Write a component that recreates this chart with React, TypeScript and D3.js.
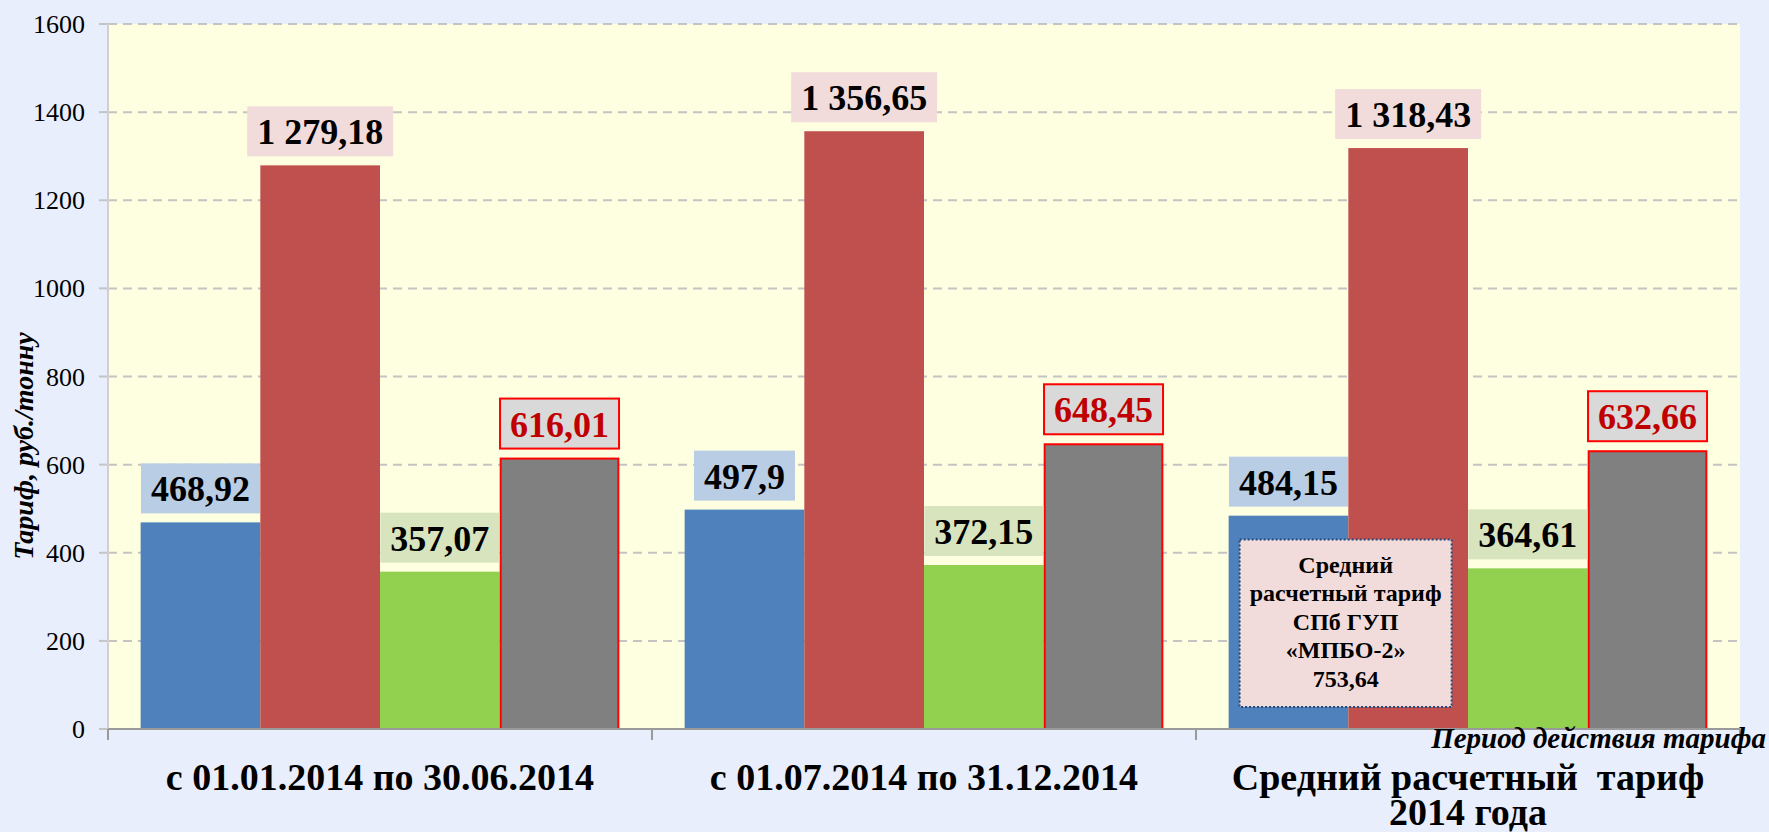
import * as d3 from "d3";

// categories (periods) and series values
const categories = ["p1", "p2", "p3"];
const categoryLines = [
  ["с 01.01.2014 по 30.06.2014"],
  ["с 01.07.2014 по 31.12.2014"],
  ["Средний расчетный  тариф", "2014 года"],
];
const seriesKeys = ["s1", "s2", "s3", "s4"];
const series1 = [468.92, 497.9, 484.15];
const series2 = [1279.18, 1356.65, 1318.43];
const series3 = [357.07, 372.15, 364.61];
const series4 = [616.01, 648.45, 632.66];
const yTicks = [0, 200, 400, 600, 800, 1000, 1200, 1400, 1600];

const noteLines = ["Средний", "расчетный тариф", "СПб ГУП", "«МПБО-2»", "753,64"];
const yTitle = "Тариф, руб./тонну";
const xTitle = "Период действия тарифа";

const seriesValues = [series1, series2, series3, series4];
const barFill = ["#4F81BD", "#C0504D", "#92D050", "#808080"];
const barStroke = ["none", "none", "none", "#FF0000"];
const labelFill = ["#B9CDE5", "#F2DCDB", "#D7E4BD", "#D9D9D9"];
const labelStroke = ["none", "none", "none", "#FF0000"];
const labelColor = ["#000", "#000", "#000", "#C00000"];

const font = "'Liberation Serif', 'Times New Roman', serif";

const ru = d3.formatLocale({
  decimal: ",",
  thousands: "\u00a0",
  grouping: [3],
  currency: ["", " руб."],
});
const fmt = ru.format(",.2~f");

let ctx: CanvasRenderingContext2D | null = null;
function textWidth(s: string, size: number) {
  if (!ctx) ctx = document.createElement("canvas").getContext("2d");
  if (!ctx) return s.length * size * 0.5;
  ctx.font = `bold ${size}px ${font}`;
  return ctx.measureText(s).width;
}

export default function App() {
  const width = 1769;
  const height = 832;
  const marginLeft = 108;
  const marginRight = 29;
  const marginTop = 24;
  const marginBottom = 103;

  const innerBottom = height - marginBottom;
  const innerRight = width - marginRight;

  const x = d3
    .scaleBand()
    .domain(categories)
    .range([marginLeft, innerRight])
    .paddingInner(0.12)
    .paddingOuter(0.06);

  const xs = d3.scaleBand().domain(seriesKeys).range([0, x.bandwidth()]);

  const y = d3.scaleLinear().domain([0, 1600]).range([innerBottom, marginTop]);

  const half = (x.step() - x.bandwidth()) / 2;
  const bounds = [...categories.map((c) => x(c)! - half), innerRight];

  const labelSize = 36;

  return (
    <div style={{ position: "fixed", inset: 0, overflow: "hidden" }}>
      <svg width={width} height={height} style={{ display: "block" }} fontFamily={font}>
        <rect width={width} height={height} fill="#E9EEFD" />
        <rect
          x={marginLeft}
          y={marginTop}
          width={innerRight - marginLeft}
          height={innerBottom - marginTop}
          fill="#FEFFE0"
        />

        {/* grid + y ticks */}
        {yTicks.map((t) => (
          <g key={t}>
            {t > 0 && (
              <line
                x1={marginLeft}
                x2={innerRight}
                y1={y(t)}
                y2={y(t)}
                stroke="#C4C4C4"
                strokeWidth={2}
                strokeDasharray="9 6"
              />
            )}
            <line x1={marginLeft - 9} x2={marginLeft} y1={y(t)} y2={y(t)} stroke="#C4C4C4" strokeWidth={2} />
            <text x={85} y={y(t)} dy="0.35em" textAnchor="end" fontSize={26}>
              {t}
            </text>
          </g>
        ))}

        {/* y axis */}
        <line x1={marginLeft} x2={marginLeft} y1={marginTop} y2={innerBottom} stroke="#D0D0D0" strokeWidth={2} />

        {/* bars */}
        {categories.map((c, i) =>
          seriesKeys.map((k, j) => {
            const v = seriesValues[j][i];
            const bx = x(c)! + xs(k)!;
            const bw = xs.bandwidth();
            const sw = barStroke[j] === "none" ? 0 : 2;
            return (
              <rect
                key={c + k}
                x={bx + sw / 2}
                y={y(v) + sw / 2}
                width={bw - sw}
                height={y(0) - y(v) - sw / 2}
                fill={barFill[j]}
                stroke={barStroke[j]}
                strokeWidth={sw}
              />
            );
          })
        )}

        {/* x axis */}
        <line x1={marginLeft} x2={innerRight} y1={innerBottom} y2={innerBottom} stroke="#9A9A9A" strokeWidth={2} />
        {bounds.map((b, i) => (
          <line key={i} x1={b} x2={b} y1={innerBottom} y2={innerBottom + 11} stroke="#9A9A9A" strokeWidth={2} />
        ))}

        {/* value labels */}
        {categories.map((c, i) =>
          seriesKeys.map((k, j) => {
            const v = seriesValues[j][i];
            const s = fmt(v);
            const cx = x(c)! + xs(k)! + xs.bandwidth() / 2;
            const w = textWidth(s, labelSize) + 20;
            const bottom = y(v) - 9;
            const h = 50;
            return (
              <g key={"l" + c + k}>
                <rect
                  x={cx - w / 2}
                  y={bottom - h}
                  width={w}
                  height={h}
                  fill={labelFill[j]}
                  stroke={labelStroke[j]}
                  strokeWidth={labelStroke[j] === "none" ? 0 : 2}
                />
                <text
                  x={cx}
                  y={bottom - 12}
                  textAnchor="middle"
                  fontSize={labelSize}
                  fontWeight="bold"
                  fill={labelColor[j]}
                >
                  {s}
                </text>
              </g>
            );
          })
        )}

        {/* note box over the third group */}
        <g>
          <rect
            x={x(categories[2])! + 11}
            y={y(430)}
            width={212}
            height={y(50) - y(430)}
            fill="#F2DCDB"
            stroke="#1F497D"
            strokeWidth={2}
            strokeDasharray="2 2"
          />
          {noteLines.map((l, i) => (
            <text
              key={i}
              x={x(categories[2])! + 11 + 106}
              y={y(430) + 33 + i * 28.5}
              textAnchor="middle"
              fontSize={24}
              fontWeight="bold"
            >
              {l}
            </text>
          ))}
        </g>

        {/* category labels */}
        {categories.map((c, i) => (
          <text
            key={"c" + c}
            x={x(c)! + x.bandwidth() / 2}
            y={790}
            textAnchor="middle"
            fontSize={38}
            fontWeight="bold"
            style={{ whiteSpace: "pre" }}
          >
            {categoryLines[i].map((l, k) => (
              <tspan key={k} x={x(c)! + x.bandwidth() / 2} dy={k === 0 ? 0 : 35}>
                {l}
              </tspan>
            ))}
          </text>
        ))}

        {/* axis titles */}
        <text
          x={width - 3}
          y={748}
          textAnchor="end"
          fontSize={29}
          fontWeight="bold"
          fontStyle="italic"
        >
          {xTitle}
        </text>
        <text
          transform={`translate(33, 446) rotate(-90)`}
          textAnchor="middle"
          fontSize={28}
          fontWeight="bold"
          fontStyle="italic"
        >
          {yTitle}
        </text>
      </svg>
    </div>
  );
}
